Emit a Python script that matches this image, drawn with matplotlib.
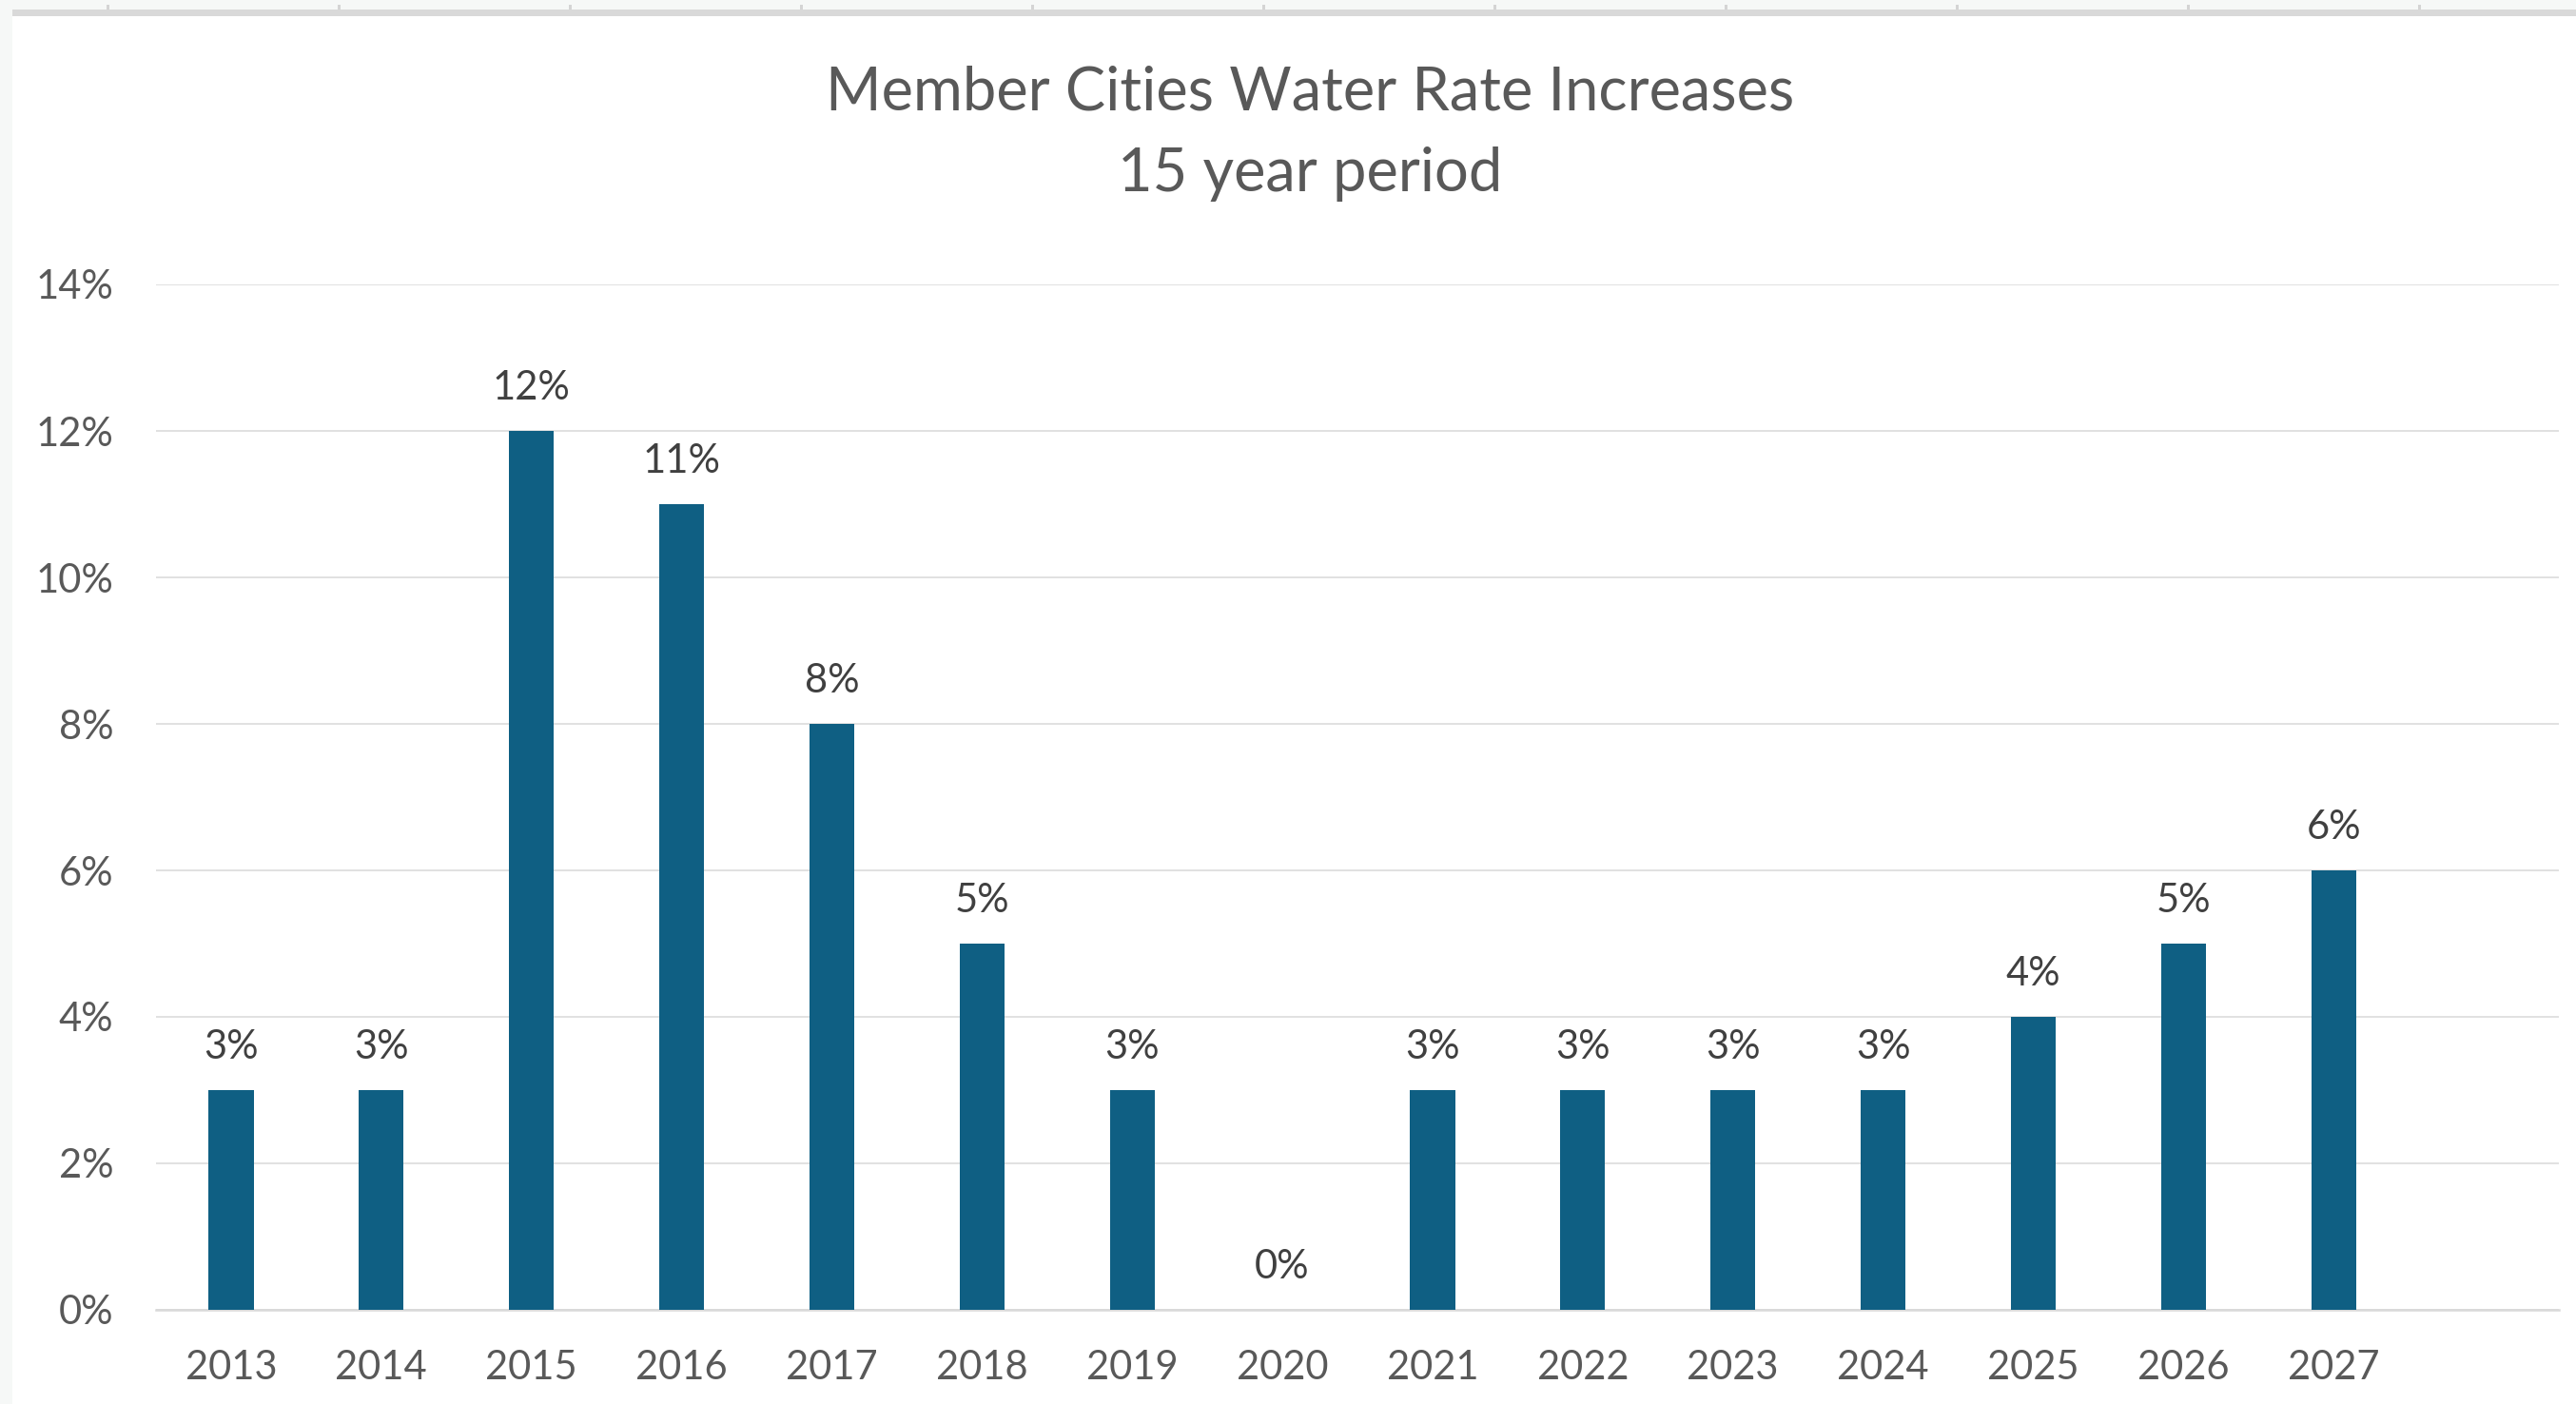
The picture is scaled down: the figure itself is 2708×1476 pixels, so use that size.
import numpy as np
import matplotlib.pyplot as plt
from matplotlib.patches import Rectangle
from matplotlib.ticker import FuncFormatter

# Data
years = ['2013', '2014', '2015', '2016', '2017', '2018', '2019', '2020',
         '2021', '2022', '2023', '2024', '2025', '2026', '2027']
increase = [3, 3, 12, 11, 8, 5, 3, 0, 3, 3, 3, 3, 4, 5, 6]
y_ticks = [0, 2, 4, 6, 8, 10, 12, 14]

W, H = 2708, 1476
plt.rcParams['font.family'] = ['Lato', 'DejaVu Sans']

fig = plt.figure(figsize=(W / 100, H / 100), dpi=100)
fig.patch.set_facecolor('white')

# spreadsheet frame bits around the chart (column header edge, left margin)
fig.add_artist(Rectangle((0, 1 - 10 / H), 1, 10 / H, transform=fig.transFigure,
                         color='#f6f8f7', lw=0, zorder=0))
fig.add_artist(Rectangle((0, 0), 13 / W, 1, transform=fig.transFigure,
                         color='#f6f8f7', lw=0, zorder=0))
fig.add_artist(Rectangle((13 / W, 1 - 17 / H), 1 - 13 / W, 7 / H,
                         transform=fig.transFigure, color='#d9d9d9', lw=0, zorder=1))
for cx in np.arange(112, W, 243):
    fig.add_artist(Rectangle((cx / W, 1 - 10 / H), 3 / W, 5 / H,
                             transform=fig.transFigure, color='#d4d4d4', lw=0, zorder=1))

# axes placed like the Excel plot area
left, right = 164 / W, 2690 / W
bottom, top = 1 - 1377 / H, 1 - 299 / H
ax = fig.add_axes([left, bottom, right - left, top - bottom])

x = np.arange(len(years))
bars = ax.bar(x, increase, width=0.30, color='#0f5f83', zorder=3)

ax.set_xlim(-0.5, 15.5)
ax.set_ylim(0, 14)
ax.set_yticks(y_ticks)
ax.yaxis.set_major_formatter(FuncFormatter(lambda v, p: f'{v:.0f}%'))
ax.set_xticks(x)
ax.set_xticklabels(years)

ax.grid(axis='y', color='#d9d9d9', linewidth=1.1, zorder=0)
ax.set_axisbelow(True)
for s in ['top', 'right', 'left']:
    ax.spines[s].set_visible(False)
ax.spines['bottom'].set_color('#d9d9d9')
ax.spines['bottom'].set_linewidth(1.8)
ax.spines['bottom'].set_zorder(2)

ax.tick_params(axis='both', length=0, labelsize=30, labelcolor='#595959')
ax.tick_params(axis='x', pad=30)
ax.tick_params(axis='y', pad=32)

ax.bar_label(bars, labels=[f'{v}%' for v in increase], padding=19,
             fontsize=30, color='#404040')

fig.text(1377 / W, 1 - 98 / H, 'Member Cities Water Rate Increases',
         ha='center', va='center', fontsize=45.5, color='#595959')
fig.text(1377 / W, 1 - 183 / H, '15 year period',
         ha='center', va='center', fontsize=45.5, color='#595959')

fig.savefig('out.png', dpi=100)
